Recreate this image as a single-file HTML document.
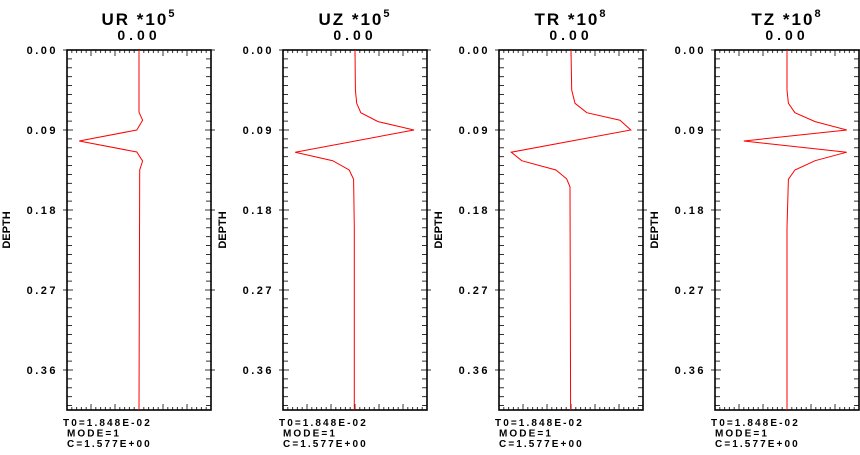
<!DOCTYPE html>
<html><head><meta charset="utf-8"><style>
body{margin:0;background:#fff;}
svg text{font-family:"Liberation Sans",sans-serif;font-weight:bold;fill:#000;}
</style></head><body>
<svg id="chart" width="860" height="450" xmlns="http://www.w3.org/2000/svg"></svg>
<script>
const panelTitles = ["UR", "UZ", "TR", "TZ"];
const panelExponents = ["5", "5", "8", "8"];
const depthTicks = [0.00, 0.09, 0.18, 0.27, 0.36];
const tickLabels = ["0.00", "0.09", "0.18", "0.27", "0.36"];
const urDepth = [0, 0.07, 0.079, 0.09, 0.1024, 0.1148, 0.1249, 0.135, 0.405];
const urValue = [0, 0, 0.05, -0.03, -0.83, -0.03, 0.05, 0.01, 0];
const uzDepth = [0, 0.045, 0.06, 0.0705, 0.0806, 0.09, 0.115, 0.1245, 0.135, 0.1455, 0.2, 0.405];
const uzValue = [0, 0.005, 0.024, 0.08, 0.32, 0.82, -0.83, -0.31, -0.08, -0.02, -0.01, -0.01];
const trDepth = [0, 0.045, 0.06, 0.0705, 0.079, 0.09, 0.115, 0.1245, 0.135, 0.145, 0.154, 0.405];
const trValue = [0, 0.01, 0.055, 0.22, 0.68, 0.83, -0.83, -0.685, -0.21, -0.06, -0.014, -0.005];
const tzDepth = [0, 0.045, 0.06, 0.0705, 0.0806, 0.09, 0.1024, 0.115, 0.1245, 0.135, 0.1455, 0.2, 0.405];
const tzValue = [0, 0, 0.02, 0.11, 0.39, 0.83, -0.6, 0.83, 0.39, 0.11, 0.02, 0, 0];
const seriesDepth = [urDepth, uzDepth, trDepth, tzDepth];
const seriesValue = [urValue, uzValue, trValue, tzValue];
const footerLines = ["T0=1.848E-02", "MODE=1", "C=1.577E+00"];

const svg = document.getElementById('chart');
const NS = "http://www.w3.org/2000/svg";
const top0 = 50, bottom0 = 410, maxDepth = 0.405, frameW = 144;
function yScale(d){ return top0 + d / maxDepth * (bottom0 - top0); }
function mk(tag, attrs, parent){
  const e = document.createElementNS(NS, tag);
  for (const k in attrs) e.setAttribute(k, attrs[k]);
  (parent || svg).appendChild(e); return e;
}
for (let p = 0; p < 4; p++){
  const left = 67 + p * 216, right = left + frameW, cx = left + frameW / 2;
  const xScale = v => cx + v * frameW / 2;
  const g = mk('g', {});
  
  
  const t = mk('text', {x: cx, y: 25, 'text-anchor': 'middle', 'font-size': 17, 'letter-spacing': 2, 'xml:space': 'preserve'}, g);
  
  
  t.textContent = panelTitles[p] + "  *10";
  const sup = mk('tspan', {dy: -8, 'font-size': 11}, t); sup.textContent = panelExponents[p];
  const z = mk('text', {x: cx, y: 40, 'text-anchor': 'middle', 'font-size': 14, 'letter-spacing': 4}, g);
  
  
  z.textContent = "0.00";
  let d = '';
  for (let i = 0; i <= 40; i++){
    const y = yScale(i * 0.01);
    if (y > bottom0) break;
    const major = i % 9 === 0;
    d += `M${major ? left - 4 : left} ${y}h${major ? 10 : 5}M${right + (major ? 4 : 0)} ${y}h${major ? -10 : -5}`;
  }
  for (let i = 0; i <= 30; i++){
    const x = left + i * frameW / 30, len = i % 5 === 0 ? 6 : 3;
    d += `M${x} ${top0}v${len}M${x} ${bottom0}v${-len}`;
  }
  const ticks = mk('path', {d: d, stroke: '#333', 'stroke-width': 1, fill: 'none'}, g);
  
  
  const fr = mk('rect', {x: left, y: top0, width: frameW, height: bottom0 - top0, fill: 'none', stroke: '#000', 'stroke-width': 1.6}, g);
  
  
  depthTicks.forEach((v, i) => {
    const lb = mk('text', {x: left - 9, y: yScale(v) + 4, 'text-anchor': 'end', 'font-size': 11, 'letter-spacing': 2.5}, g);
    
    
    lb.textContent = tickLabels[i];
  });
  const yt = mk('text', {x: 0, y: 0, 'text-anchor': 'middle', 'font-size': 11, transform: `translate(${left - 57},230) rotate(-90)`}, g);
  
  
  yt.textContent = "DEPTH";
  const pts = seriesDepth[p].map((dd, i) => xScale(seriesValue[p][i]).toFixed(1) + ',' + yScale(dd).toFixed(1)).join(' ');
  const line = mk('polyline', {points: pts, fill: 'none', stroke: '#f00', 'stroke-width': 1}, g);
  
  
  footerLines.forEach((s, i) => {
    const f = mk('text', {x: left - 4 + (i > 0 ? 4 : 0), y: 426 + i * 10.5, 'font-size': 10, 'letter-spacing': 2.1}, g);
    
    
    f.textContent = s;
  });
}
</script>
</body></html>
